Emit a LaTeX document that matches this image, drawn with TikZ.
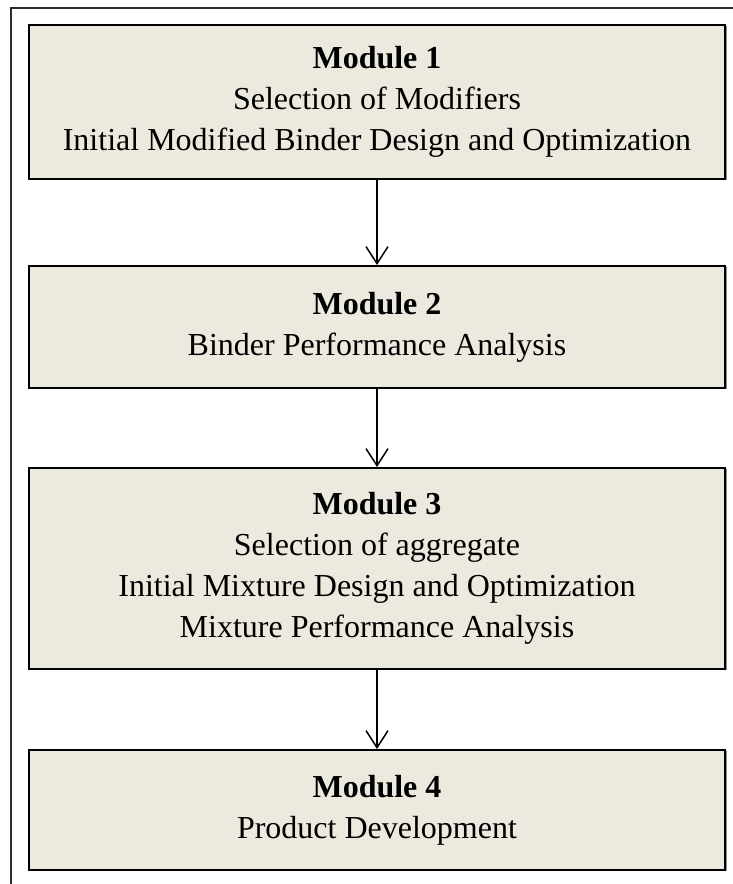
\documentclass[tikz,border=0pt]{standalone}
\usepackage{fontspec}
\setmainfont{Liberation Serif}
\usetikzlibrary{arrows.meta}
\definecolor{boxfill}{RGB}{236,233,223}
\definecolor{framegray}{RGB}{45,45,45}
\tikzset{
  modbox/.style={draw=black, line width=2pt, fill=boxfill,
    minimum width=696pt, inner sep=0pt, align=center,
    font=\fontsize{32}{41}\selectfont},
  boxshade/.style={fill=black!45},
  flow/.style={draw=black, line width=1.5pt,
    -{Straight Barb[length=17pt,width=22pt,line width=1.5pt]}}
}
\begin{document}
\begin{tikzpicture}[x=1pt,y=1pt]
  \useasboundingbox (0,0) rectangle (732,884);
  % outer frame, running off the right and bottom edges
  \draw[framegray, line width=2pt] (11,-20) -- (11,876) -- (760,876);

  % module boxes (centres at x = 377)
  \foreach \cy/\h in {782/154, 557/122, 315.5/201, 74/120}{
    \fill[boxshade] (377-348+1.5,\cy-\h/2-1.5) rectangle (377+348+1.5,\cy+\h/2-1.5);
  }
  \node[modbox, minimum height=154pt] (m1) at (377,782)
    {\textbf{Module 1}\\Selection of Modifiers\\Initial Modified Binder Design and Optimization};
  \node[modbox, minimum height=122pt] (m2) at (377,557)
    {\textbf{Module 2}\\Binder Performance Analysis};
  \node[modbox, minimum height=201pt] (m3) at (377,315.5)
    {\textbf{Module 3}\\Selection of aggregate\\Initial Mixture Design and Optimization\\Mixture Performance Analysis};
  \node[modbox, minimum height=120pt] (m4) at (377,74)
    {\textbf{Module 4}\\Product Development};

  % connectors
  \draw[flow] (m1.south) -- (m2.north);
  \draw[flow] (m2.south) -- (m3.north);
  \draw[flow] (m3.south) -- (m4.north);
\end{tikzpicture}
\end{document}
